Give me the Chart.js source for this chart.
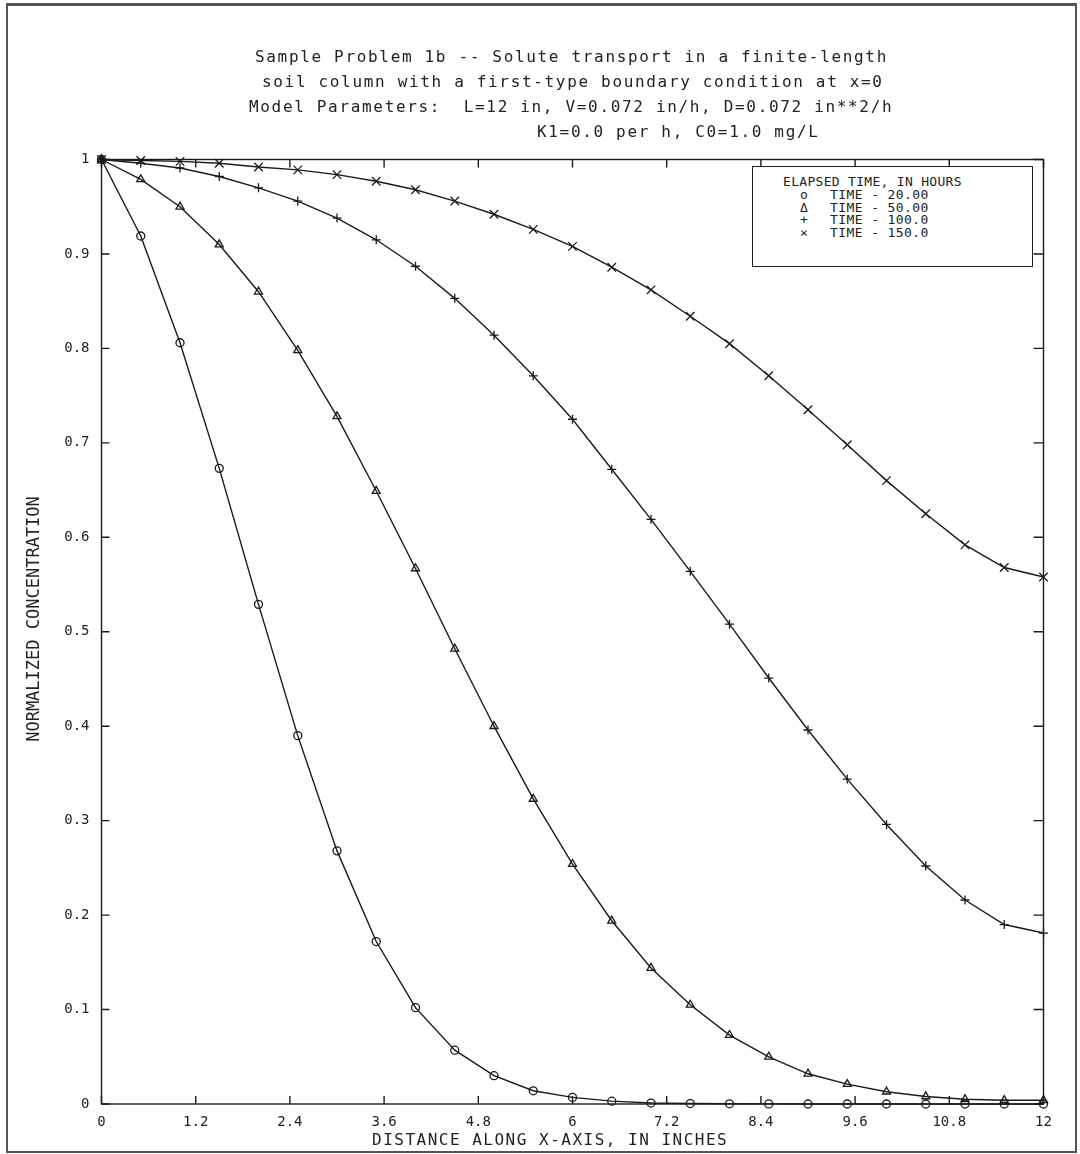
<!DOCTYPE html>
<html>
<head>
<meta charset="utf-8">
<title>Sample Problem 1b</title>
<script src="https://cdn.jsdelivr.net/npm/chart.js@4.4.1/dist/chart.umd.min.js"></script>
<style>
    body { margin: 0; background: #fff; }
    #pagina { position: relative; width: 1080px; height: 1154px; overflow: hidden; background: #fff; }
    #grafica { position: absolute; left: 0; top: 0; }
    #marco_pagina {
        position: absolute; left: 6px; top: 3px; width: 1071px; height: 1150px;
        border: 2px solid #555; border-top-width: 3px; box-sizing: border-box;
    }
    .texto {
        position: absolute; white-space: pre; color: #222;
        font-family: "DejaVu Sans Mono", monospace;
    }
    .titulo { font-size: 16px; line-height: 20px; letter-spacing: 1.67px; }
    #titulo_x { font-size: 16px; line-height: 20px; letter-spacing: 1.5px; left: 372px; top: 1130px; }
    #titulo_y {
        font-size: 17px; line-height: 20px; left: 33px; top: 619px;
        transform: translate(-50%, -50%) rotate(-90deg);
    }
    #leyenda {
        position: absolute; left: 752px; top: 166px; width: 281px; height: 101px;
        border: 1.3px solid #222; background: #fff; box-sizing: border-box;
        font-family: "DejaVu Sans Mono", monospace; font-size: 13px; color: #222;
    }
    #leyenda .encabezado { margin: 7px 0 0 30px; line-height: 15px; letter-spacing: 0.3px; }
    #leyenda .fila { line-height: 12.7px; padding-left: 45px; white-space: pre; }
    #leyenda .simbolo { display: inline-block; width: 12px; text-align: center; }
    #leyenda .etiqueta { margin-left: 20px; letter-spacing: 0.4px; }
</style>
</head>
<body>
<div id="pagina">
    <canvas id="grafica" width="1080" height="1154"></canvas>
    <div id="marco_pagina"></div>
    <div class="texto titulo" style="left:255px; top:47px;">Sample Problem 1b -- Solute transport in a finite-length</div>
    <div class="texto titulo" style="left:262px; top:72px;">soil column with a first-type boundary condition at x=0</div>
    <div class="texto titulo" style="left:249px; top:97px;">Model Parameters:  L=12 in, V=0.072 in/h, D=0.072 in**2/h</div>
    <div class="texto titulo" style="left:537px; top:122px;">K1=0.0 per h, C0=1.0 mg/L</div>
    <div class="texto" id="titulo_x">DISTANCE ALONG X-AXIS, IN INCHES</div>
    <div class="texto" id="titulo_y">NORMALIZED CONCENTRATION</div>
    <div id="leyenda"></div>
</div>

<script>
// Distancia a lo largo de la columna (pulgadas)
const distancias = [0, 0.5, 1, 1.5, 2, 2.5, 3, 3.5, 4, 4.5, 5, 5.5, 6,
    6.5, 7, 7.5, 8, 8.5, 9, 9.5, 10, 10.5, 11, 11.5, 12];

// Concentracion normalizada para cada tiempo transcurrido
const conc20 = [1, 0.919, 0.806, 0.673, 0.529, 0.390, 0.268, 0.172, 0.102, 0.057, 0.030, 0.014, 0.007,
    0.003, 0.001, 0.0005, 0.0002, 0.0001, 0, 0, 0, 0, 0, 0, 0];
const conc50 = [1, 0.979, 0.950, 0.910, 0.860, 0.798, 0.728, 0.649, 0.567, 0.482, 0.400, 0.323, 0.254,
    0.194, 0.144, 0.105, 0.073, 0.050, 0.032, 0.021, 0.013, 0.008, 0.005, 0.004, 0.004];
const conc100 = [1, 0.996, 0.991, 0.982, 0.970, 0.956, 0.938, 0.915, 0.887, 0.853, 0.814, 0.771, 0.725,
    0.672, 0.619, 0.564, 0.508, 0.451, 0.396, 0.344, 0.296, 0.252, 0.216, 0.190, 0.181];
const conc150 = [1, 0.999, 0.998, 0.996, 0.992, 0.989, 0.984, 0.977, 0.968, 0.956, 0.942, 0.926, 0.908,
    0.886, 0.862, 0.834, 0.805, 0.771, 0.735, 0.698, 0.660, 0.625, 0.592, 0.568, 0.558];

const etiquetasTiempo = ['TIME - 20.00', 'TIME - 50.00', 'TIME - 100.0', 'TIME - 150.0'];
const tituloLeyenda = 'ELAPSED TIME, IN HOURS';

const ticksX = [0, 1.2, 2.4, 3.6, 4.8, 6, 7.2, 8.4, 9.6, 10.8, 12];
const etiquetasX = ['0', '1.2', '2.4', '3.6', '4.8', '6', '7.2', '8.4', '9.6', '10.8', '12'];
const ticksY = [0, 0.1, 0.2, 0.3, 0.4, 0.5, 0.6, 0.7, 0.8, 0.9, 1];
const etiquetasY = ['0', '0.1', '0.2', '0.3', '0.4', '0.5', '0.6', '0.7', '0.8', '0.9', '1'];

const TINTA = '#1a1a1a';

function puntos(serie) {
    return distancias.map((x, i) => ({ x: x, y: serie[i] }));
}

function serie(etiqueta, valores, estilo, radio) {
    return {
        label: etiqueta,
        data: puntos(valores),
        borderColor: TINTA,
        borderWidth: 1.4,
        pointStyle: estilo,
        pointRadius: radio,
        pointBorderColor: TINTA,
        pointBackgroundColor: 'rgba(0,0,0,0)',
        pointBorderWidth: 1.3,
        tension: 0,
        clip: false
    };
}

// Marco del area de trazado con marcas hacia dentro en los cuatro lados
const marco = {
    id: 'marco',
    beforeDatasetsDraw(chart) {
        const ctx = chart.ctx;
        const a = chart.chartArea;
        const x = chart.scales.x;
        const y = chart.scales.y;
        ctx.save();
        ctx.strokeStyle = TINTA;
        ctx.lineWidth = 1.4;
        ctx.strokeRect(a.left, a.top, a.right - a.left, a.bottom - a.top);
        ctx.beginPath();
        ticksX.forEach(v => {
            const px = x.getPixelForValue(v);
            ctx.moveTo(px, a.bottom); ctx.lineTo(px, a.bottom - 8);
            ctx.moveTo(px, a.top); ctx.lineTo(px, a.top + 8);
        });
        ticksY.forEach(v => {
            const py = y.getPixelForValue(v);
            ctx.moveTo(a.left, py); ctx.lineTo(a.left + 8, py);
            ctx.moveTo(a.right, py); ctx.lineTo(a.right - 10, py);
        });
        ctx.stroke();
        ctx.restore();
    }
};

const fuenteTicks = { family: 'DejaVu Sans Mono', size: 14 };

const grafica = new Chart(document.getElementById('grafica').getContext('2d'), {
    type: 'line',
    data: {
        datasets: [
            serie(etiquetasTiempo[0], conc20, 'circle', 4),
            serie(etiquetasTiempo[1], conc50, 'triangle', 4.6),
            serie(etiquetasTiempo[2], conc100, 'cross', 4.5),
            serie(etiquetasTiempo[3], conc150, 'crossRot', 6)
        ]
    },
    options: {
        responsive: false,
        animation: false,
        layout: { padding: { top: 159.5, right: 36.5, left: 0, bottom: 0 } },
        plugins: {
            legend: { display: false },
            tooltip: { enabled: false },
            title: { display: false }
        },
        scales: {
            x: {
                type: 'linear',
                min: 0,
                max: 12,
                afterBuildTicks: s => { s.ticks = ticksX.map(v => ({ value: v })); },
                afterFit: s => { s.height = 50; },
                ticks: {
                    callback: (v, i) => etiquetasX[i],
                    font: fuenteTicks,
                    color: '#222',
                    padding: 10,
                    maxRotation: 0,
                    autoSkip: false
                },
                grid: { display: false, drawTicks: false },
                border: { display: false }
            },
            y: {
                type: 'linear',
                min: 0,
                max: 1,
                afterBuildTicks: s => { s.ticks = ticksY.map(v => ({ value: v })); },
                afterFit: s => { s.width = 101.5; },
                ticks: {
                    callback: (v, i) => etiquetasY[i],
                    font: fuenteTicks,
                    color: '#222',
                    padding: 12,
                    autoSkip: false
                },
                grid: { display: false, drawTicks: false },
                border: { display: false }
            }
        }
    },
    plugins: [marco]
});

// Leyenda en HTML a partir de las series de la grafica
const simbolos = { circle: 'o', triangle: '\u0394', cross: '+', crossRot: '\u00d7' };
const leyenda = document.getElementById('leyenda');
let html = '<div class="encabezado">' + tituloLeyenda + '</div>';
grafica.data.datasets.forEach(ds => {
    html += '<div class="fila"><span class="simbolo">' + simbolos[ds.pointStyle] +
        '</span><span class="etiqueta">' + ds.label + '</span></div>';
});
leyenda.innerHTML = html;
</script>
</body>
</html>
